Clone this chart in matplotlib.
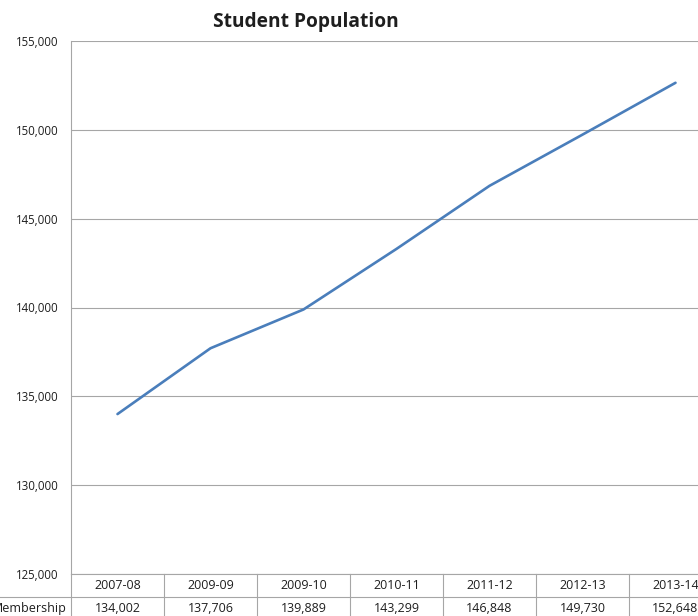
import matplotlib.pyplot as plt
from matplotlib.ticker import FuncFormatter

years = ["2007-08", "2009-09", "2009-10", "2010-11", "2011-12", "2012-13", "2013-14"]
membership = [134002, 137706, 139889, 143299, 146848, 149730, 152648]
series_name = "Membership"

plt.rcParams["font.family"] = ["Open Sans", "DejaVu Sans"]
text_color = "#1e1e1e"
grid_color = "#a6a6a6"

fig = plt.figure(figsize=(6.98, 6.16), dpi=100)
# plot area runs past the right edge, like the cropped original
ax = fig.add_axes([71 / 698, 1 - 574 / 616, 651 / 698, 533 / 616])

x = list(range(len(years)))
ax.plot(x, membership, color="#4a7ebb", linewidth=1.9, solid_capstyle="round")

ax.set_xlim(-0.5, len(years) - 0.5)
ax.set_ylim(125000, 155000)
ax.set_yticks(range(125000, 155001, 5000))
ax.yaxis.set_major_formatter(FuncFormatter(lambda v, p: f"{int(v):,}"))
ax.tick_params(axis="y", length=0, pad=9, labelsize=8.3, labelcolor=text_color)
ax.set_xticks([])
ax.grid(axis="y", color=grid_color, linewidth=0.8)
for side in ["top", "right"]:
    ax.spines[side].set_visible(False)
for side in ["left", "bottom"]:
    ax.spines[side].set_color(grid_color)
    ax.spines[side].set_linewidth(0.8)

fig.text(306 / 698, 1 - 22 / 616, "Student Population", ha="center", va="center",
         fontsize=13.8, fontweight="bold", color=text_color)

# data table under the plot
row_h = 23 / 533
for i, (yr, val) in enumerate(zip(years, membership)):
    ax.text(i, -row_h / 2, yr, transform=ax.get_xaxis_transform(), ha="center",
            va="center", fontsize=9, color=text_color, clip_on=False)
    ax.text(i, -row_h * 1.5, f"{val:,}", transform=ax.get_xaxis_transform(), ha="center",
            va="center", fontsize=9, color=text_color, clip_on=False)
for b in [i - 0.5 for i in range(len(years) + 1)]:
    ax.plot([b, b], [0, -row_h * 3], transform=ax.get_xaxis_transform(), color=grid_color,
            linewidth=0.8, clip_on=False)
ax.plot([-1.5, len(years) - 0.5], [-row_h, -row_h], transform=ax.get_xaxis_transform(),
        color=grid_color, linewidth=0.8, clip_on=False)
ax.text(-0.5 - 0.045, -row_h * 1.5, series_name, transform=ax.get_xaxis_transform(),
        ha="right", va="center", fontsize=9, color=text_color, clip_on=False)

fig.savefig("out.png", dpi=100)
